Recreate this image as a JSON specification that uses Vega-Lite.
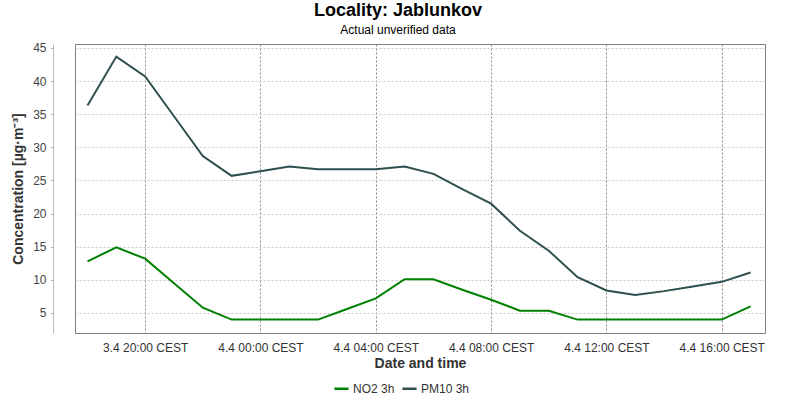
{
  "$schema": "https://vega.github.io/schema/vega-lite/v6.json",
  "width": 690,
  "height": 289,
  "autosize": {"type": "none"},
  "padding": {"left": 75, "top": 44, "right": 34, "bottom": 67},
  "background": "white",
  "title": {
    "text": "Locality: Jablunkov",
    "subtitle": "Actual unverified data",
    "anchor": "middle",
    "dx": -22,
    "offset": 6,
    "font": "Liberation Sans",
    "fontSize": 18,
    "fontWeight": "bold",
    "color": "#000000",
    "subtitleFont": "Liberation Sans",
    "subtitleFontSize": 12,
    "subtitleColor": "#000000",
    "subtitlePadding": 5
  },
  "config": {
    "view": {"stroke": "#808080", "strokeWidth": 1},
    "font": "Liberation Sans"
  },
  "data": {
    "values": [
      {"time": "2023-04-03T18:00:00Z", "series": "NO2 3h", "value": 12.8},
      {"time": "2023-04-03T19:00:00Z", "series": "NO2 3h", "value": 14.9},
      {"time": "2023-04-03T20:00:00Z", "series": "NO2 3h", "value": 13.2},
      {"time": "2023-04-03T21:00:00Z", "series": "NO2 3h", "value": 9.5},
      {"time": "2023-04-03T22:00:00Z", "series": "NO2 3h", "value": 5.8},
      {"time": "2023-04-03T23:00:00Z", "series": "NO2 3h", "value": 4.0},
      {"time": "2023-04-04T00:00:00Z", "series": "NO2 3h", "value": 4.0},
      {"time": "2023-04-04T01:00:00Z", "series": "NO2 3h", "value": 4.0},
      {"time": "2023-04-04T02:00:00Z", "series": "NO2 3h", "value": 4.0},
      {"time": "2023-04-04T03:00:00Z", "series": "NO2 3h", "value": 5.6},
      {"time": "2023-04-04T04:00:00Z", "series": "NO2 3h", "value": 7.2},
      {"time": "2023-04-04T05:00:00Z", "series": "NO2 3h", "value": 10.1},
      {"time": "2023-04-04T06:00:00Z", "series": "NO2 3h", "value": 10.1},
      {"time": "2023-04-04T07:00:00Z", "series": "NO2 3h", "value": 8.5},
      {"time": "2023-04-04T08:00:00Z", "series": "NO2 3h", "value": 7.0},
      {"time": "2023-04-04T09:00:00Z", "series": "NO2 3h", "value": 5.35},
      {"time": "2023-04-04T10:00:00Z", "series": "NO2 3h", "value": 5.35},
      {"time": "2023-04-04T11:00:00Z", "series": "NO2 3h", "value": 4.0},
      {"time": "2023-04-04T12:00:00Z", "series": "NO2 3h", "value": 4.0},
      {"time": "2023-04-04T13:00:00Z", "series": "NO2 3h", "value": 4.0},
      {"time": "2023-04-04T14:00:00Z", "series": "NO2 3h", "value": 4.0},
      {"time": "2023-04-04T15:00:00Z", "series": "NO2 3h", "value": 4.0},
      {"time": "2023-04-04T16:00:00Z", "series": "NO2 3h", "value": 4.0},
      {"time": "2023-04-04T17:00:00Z", "series": "NO2 3h", "value": 6.0},
      {"time": "2023-04-03T18:00:00Z", "series": "PM10 3h", "value": 36.3},
      {"time": "2023-04-03T19:00:00Z", "series": "PM10 3h", "value": 43.7},
      {"time": "2023-04-03T20:00:00Z", "series": "PM10 3h", "value": 40.7},
      {"time": "2023-04-03T21:00:00Z", "series": "PM10 3h", "value": 34.7},
      {"time": "2023-04-03T22:00:00Z", "series": "PM10 3h", "value": 28.7},
      {"time": "2023-04-03T23:00:00Z", "series": "PM10 3h", "value": 25.7},
      {"time": "2023-04-04T00:00:00Z", "series": "PM10 3h", "value": 26.4},
      {"time": "2023-04-04T01:00:00Z", "series": "PM10 3h", "value": 27.1},
      {"time": "2023-04-04T02:00:00Z", "series": "PM10 3h", "value": 26.7},
      {"time": "2023-04-04T03:00:00Z", "series": "PM10 3h", "value": 26.7},
      {"time": "2023-04-04T04:00:00Z", "series": "PM10 3h", "value": 26.7},
      {"time": "2023-04-04T05:00:00Z", "series": "PM10 3h", "value": 27.1},
      {"time": "2023-04-04T06:00:00Z", "series": "PM10 3h", "value": 26.0},
      {"time": "2023-04-04T07:00:00Z", "series": "PM10 3h", "value": 23.7},
      {"time": "2023-04-04T08:00:00Z", "series": "PM10 3h", "value": 21.5},
      {"time": "2023-04-04T09:00:00Z", "series": "PM10 3h", "value": 17.4},
      {"time": "2023-04-04T10:00:00Z", "series": "PM10 3h", "value": 14.4},
      {"time": "2023-04-04T11:00:00Z", "series": "PM10 3h", "value": 10.4},
      {"time": "2023-04-04T12:00:00Z", "series": "PM10 3h", "value": 8.4},
      {"time": "2023-04-04T13:00:00Z", "series": "PM10 3h", "value": 7.7},
      {"time": "2023-04-04T14:00:00Z", "series": "PM10 3h", "value": 8.3},
      {"time": "2023-04-04T15:00:00Z", "series": "PM10 3h", "value": 9.0},
      {"time": "2023-04-04T16:00:00Z", "series": "PM10 3h", "value": 9.7},
      {"time": "2023-04-04T17:00:00Z", "series": "PM10 3h", "value": 11.1}
    ]
  },
  "mark": {"type": "line", "strokeWidth": 2},
  "encoding": {
    "x": {
      "field": "time",
      "type": "temporal",
      "scale": {
        "type": "utc",
        "domain": [1680543240000, 1680629400000]
      },
      "axis": {
        "title": "Date and time",
        "titleFont": "Liberation Sans",
        "titleFontSize": 14,
        "titleFontWeight": "bold",
        "titleColor": "#333333",
        "titlePadding": 3,
        "values": [1680552000000, 1680566400000, 1680580800000, 1680595200000, 1680609600000, 1680624000000],
        "labelExpr": "utcFormat(datum.value, '%-d.%-m %H:%M') + ' CEST'",
        "labelFont": "Liberation Sans",
        "labelFontSize": 12,
        "labelColor": "#333333",
        "labelPadding": 9,
        "labelFlush": false,
        "labelOverlap": false,
        "domain": false,
        "ticks": false,
        "grid": true,
        "gridColor": "#888888",
        "gridDash": [2, 2],
        "gridWidth": 1
      }
    },
    "y": {
      "field": "value",
      "type": "quantitative",
      "scale": {"domain": [1.98, 45.6], "nice": false, "zero": false},
      "axis": {
        "title": "Concentration [µg·m⁻³]",
        "titleFont": "Liberation Sans",
        "titleFontSize": 14,
        "titleFontWeight": "bold",
        "titleColor": "#333333",
        "titlePadding": 7,
        "values": [5, 10, 15, 20, 25, 30, 35, 40, 45],
        "offset": 22,
        "labelFont": "Liberation Sans",
        "labelFontSize": 12,
        "labelColor": "#444444",
        "labelPadding": 4,
        "domain": true,
        "domainColor": "#bbbbbb",
        "ticks": true,
        "tickColor": "#bbbbbb",
        "tickSize": 3,
        "grid": true,
        "gridColor": "#c8c8c8",
        "gridDash": [2, 2],
        "gridWidth": 1
      }
    },
    "color": {
      "field": "series",
      "type": "nominal",
      "scale": {"domain": ["NO2 3h", "PM10 3h"], "range": ["#008000", "#2f4f4f"]},
      "legend": {
        "title": null,
        "orient": "none",
        "direction": "horizontal",
        "legendX": 258,
        "legendY": 336,
        "symbolType": "stroke",
        "symbolSize": 200,
        "symbolStrokeWidth": 2.5,
        "labelFont": "Liberation Sans",
        "labelFontSize": 12,
        "labelColor": "#333333",
        "labelOffset": 3,
        "columnPadding": 2
      }
    }
  }
}
